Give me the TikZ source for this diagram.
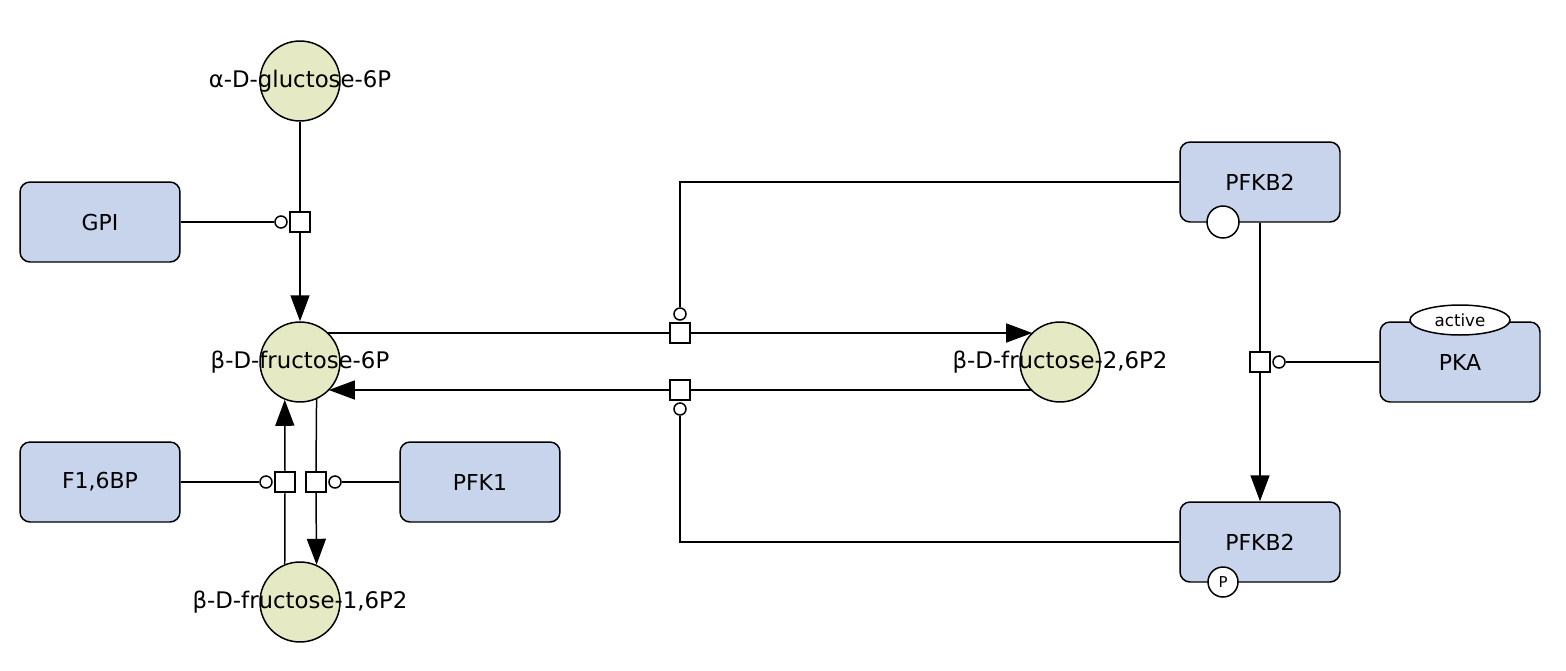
\documentclass[tikz,border=0pt]{standalone}
\usepackage{fontspec}
\setmainfont{DejaVu Sans}
\usetikzlibrary{arrows.meta,shapes.geometric}
\definecolor{spfill}{HTML}{E5E9C4}
\definecolor{boxfill}{HTML}{C7D4EB}
\begin{document}
\begin{tikzpicture}[x=0.02cm,y=-0.02cm,
  every path/.style={line width=0.85pt},
  species/.style={circle,draw,fill=spfill,minimum size=1.6cm,inner sep=0pt,line width=0.85pt},
  lbl/.style={font=\fontsize{13}{15}\selectfont,inner sep=0pt},
  macro/.style={rectangle,rounded corners=0.2cm,draw,fill=boxfill,minimum width=3.2cm,minimum height=1.6cm,font=\fontsize{12.5}{15}\selectfont,line width=0.85pt},
  proc/.style={rectangle,draw,fill=white,minimum size=0.4cm,inner sep=0pt,line width=0.85pt},
  modc/.style={circle,draw,fill=white,minimum size=0.24cm,inner sep=0pt,line width=0.85pt},
  svar/.style={circle,draw,fill=white,inner sep=0pt,line width=0.85pt},
  conv/.style={line width=0.85pt},
  prod/.style={line width=0.85pt,-{Triangle[length=0.52cm,width=0.38cm]}}
]
\useasboundingbox (0,0) rectangle (1566,670);

% species
\node[species,label={[lbl]center:α-D-gluctose-6P}] (g6p) at (300,81) {};
\node[species,label={[lbl]center:β-D-fructose-6P}] (f6p) at (300,362) {};
\node[species,label={[lbl]center:β-D-fructose-1,6P2}] (f16) at (300,602) {};
\node[species,label={[lbl]center:β-D-fructose-2,6P2}] (f26) at (1060,362) {};

% macromolecules
\node[macro] (gpi) at (100,222) {GPI};
\node[macro] (fbp) at (100,482) {F1,6BP};
\node[macro] (pfk1) at (480,482) {PFK1};
\node[macro] (pfkA) at (1260,182) {PFKB2};
\node[svar,minimum size=0.64cm] (svA) at (1223,222) {};
\node[macro] (pfkB) at (1260,542) {PFKB2};
\node[svar,minimum size=0.6cm,font=\fontsize{8.5}{9}\selectfont] (svB) at (1223,582) {P};
\node[macro] (pka) at (1460,362) {PKA};
\node[ellipse,draw,fill=white,minimum width=2cm,minimum height=0.6cm,inner sep=0pt,font=\fontsize{9.5}{10}\selectfont,line width=0.85pt] (act) at (1460,320) {active};

% process nodes
\node[proc] (pG) at (300,222) {};
\node[modc] (mG) at (281,222) {};
\node[proc] (pF) at (285,482) {};
\node[modc] (mF) at (266,482) {};
\node[proc] (pK) at (316,482) {};
\node[modc] (mK) at (335,482) {};
\node[proc] (pT) at (680,333) {};
\node[modc] (mT) at (680,314) {};
\node[proc] (pB) at (680,390) {};
\node[modc] (mB) at (680,409) {};
\node[proc] (pP) at (1260,362) {};
\node[modc] (mP) at (1279,362) {};

% GPI reaction
\draw[conv] (g6p.south) -- (pG.north);
\draw[prod] (pG.south) -- (f6p.north);
\draw[conv] (gpi.east) -- (mG.west);

% F1,6BP reaction (up)
\draw[conv] (f16.112) -- (pF.south);
\draw[prod] (pF.north) -- (f6p.248);
\draw[conv] (fbp.east) -- (mF.west);

% PFK1 reaction (down)
\draw[conv] (f6p.294) -- (pK.north);
\draw[prod] (pK.south) -- (f16.66);
\draw[conv] (pfk1.west) -- (mK.east);

% top horizontal reaction
\draw[conv] (f6p.47 |- pT.west) -- (pT.west);
\draw[prod] (pT.east) -- (f26.133 |- pT.east);
\draw[conv] (pfkA.west) -| (mT.north);

% bottom horizontal reaction
\draw[conv] (f26.225 |- pB.east) -- (pB.east);
\draw[prod] (pB.west) -- (f6p.315 |- pB.west);
\draw[conv] (mB.south) |- (pfkB.west);

% PFKB2 phosphorylation
\draw[conv] (pfkA.south) -- (pP.north);
\draw[prod] (pP.south) -- (pfkB.north);
\draw[conv] (pka.west) -- (mP.east);
\end{tikzpicture}
\end{document}
